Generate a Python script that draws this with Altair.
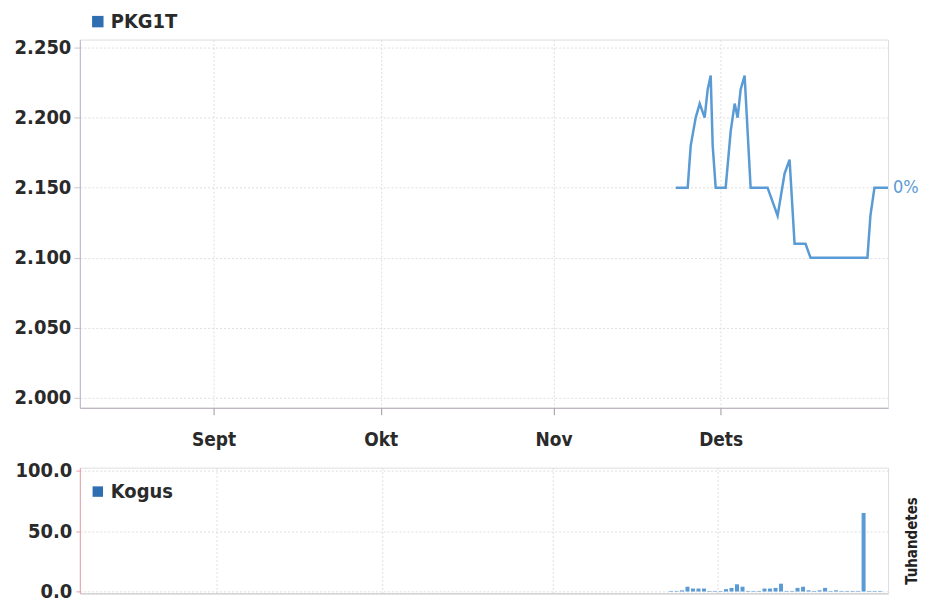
import altair as alt
import pandas as pd

# ---- data ----
price_times = [
    "2012-11-22T22:30", "2012-11-25T02:00", "2012-11-25T15:00", "2012-11-26T12:30",
    "2012-11-27T05:45", "2012-11-28T03:00", "2012-11-28T16:00", "2012-11-29T05:00",
    "2012-11-29T13:40", "2012-11-30T02:30", "2012-12-01T21:30", "2012-12-02T19:00",
    "2012-12-03T12:15", "2012-12-04T01:00", "2012-12-04T14:00", "2012-12-05T07:10",
    "2012-12-06T09:00", "2012-12-09T10:00", "2012-12-11T05:15", "2012-12-12T11:15",
    "2012-12-13T08:50", "2012-12-14T06:15", "2012-12-16T05:30", "2012-12-17T03:00",
    "2012-12-27T08:10", "2012-12-27T21:00", "2012-12-28T14:20", "2012-12-31T01:00",
]
price_values = [
    2.15, 2.15, 2.18, 2.20, 2.21, 2.20, 2.22, 2.23,
    2.18, 2.15, 2.15, 2.19, 2.21, 2.20, 2.22, 2.23,
    2.15, 2.15, 2.13, 2.16, 2.17, 2.11, 2.11, 2.10,
    2.10, 2.13, 2.15, 2.15,
]
change_label = "0%"

volume_days = [
    "2012-11-22", "2012-11-23", "2012-11-24", "2012-11-25", "2012-11-26", "2012-11-27",
    "2012-11-28", "2012-11-29", "2012-11-30", "2012-12-01", "2012-12-02", "2012-12-03",
    "2012-12-04", "2012-12-05", "2012-12-06", "2012-12-07", "2012-12-08", "2012-12-09",
    "2012-12-10", "2012-12-11", "2012-12-12", "2012-12-13", "2012-12-14", "2012-12-15",
    "2012-12-16", "2012-12-17", "2012-12-18", "2012-12-19", "2012-12-20", "2012-12-21",
    "2012-12-22", "2012-12-23", "2012-12-24", "2012-12-25", "2012-12-26", "2012-12-27",
    "2012-12-28", "2012-12-29", "2012-12-30",
]
volume_values = [
    0.5, 0.5, 1, 4, 2.5, 2.5, 2.5, 0.5, 0.5, 0.5, 2, 3, 6, 4, 0.5, 0.5, 0.5, 2.5,
    2.5, 3, 6.5, 0.5, 0.5, 3, 4, 1, 0.5, 1, 3, 0.5, 1, 0.5, 0.5, 0.5, 0.5, 65,
    0.5, 0.5, 0.5,
]

month_names = ["Jaan", "Veebr", "Märts", "Apr", "Mai", "Juuni", "Juuli", "Aug",
               "Sept", "Okt", "Nov", "Dets"]

price_df = pd.DataFrame({"t": price_times, "price": price_values, "series": "PKG1T"})
price_df["label"] = ""
price_df.loc[price_df.index[-1], "label"] = change_label
vol_df = pd.DataFrame({"t": [d + "T12:00" for d in volume_days], "vol": volume_values,
                       "series": "Kogus"})

FONT = "DejaVu Sans Condensed"
LINE = "#5b9bd5"
LEG = "#2f6eb0"
GRID = "#dedede"
TXT = "#2a2a2a"

x_domain = [alt.DateTime(year=2012, month=8, date=8, hours=0),
            alt.DateTime(year=2012, month=12, date=31, hours=1)]
label_expr = "[" + ",".join("'%s'" % m for m in month_names) + "][month(datum.value)]"

x_top = alt.X("t:T", scale=alt.Scale(domain=x_domain),
              axis=alt.Axis(title=None, tickCount={"interval": "month", "step": 1},
                            labelExpr=label_expr, grid=True, gridColor=GRID, gridDash=[2, 2],
                            domainColor="#b4a8bc", tickColor="#9a9a9a", tickSize=7,
                            labelFont=FONT, labelFontSize=19, labelFontWeight="bold",
                            labelColor=TXT, labelPadding=16))

top_line = alt.Chart(price_df).mark_line(strokeWidth=2.5, clip=True, stroke=LINE).encode(
    x=x_top,
    y=alt.Y("price:Q", scale=alt.Scale(domain=[1.9929, 2.2557], nice=False, zero=False),
            axis=alt.Axis(title=None, values=[2.0, 2.05, 2.1, 2.15, 2.2, 2.25], format=".3f",
                          grid=True, gridColor=GRID, gridDash=[2, 2],
                          domainColor="#c4b4cc", tickColor="#c8c8c8", tickSize=6,
                          labelFont=FONT, labelFontSize=20, labelFontWeight="bold",
                          labelColor=TXT, labelPadding=3)),
    color=alt.Color("series:N", scale=alt.Scale(domain=["PKG1T"], range=[LEG]),
                    legend=alt.Legend(title=None, orient="none", legendX=8, legendY=-28,
                                      symbolType="square", symbolSize=30, symbolStrokeWidth=6,
                                      labelFont=FONT, labelFontSize=20, labelFontWeight="bold",
                                      labelColor=TXT, labelOffset=3)),
)
top_text = alt.Chart(price_df).transform_filter("datum.label != ''").mark_text(
    align="left", baseline="middle", dx=5, font=FONT, fontSize=18, color=LINE, clip=False
).encode(x="t:T", y="price:Q", text="label:N")

top = alt.layer(top_line, top_text).properties(width=810, height=369)

x_bot = alt.X("t:T", scale=alt.Scale(domain=x_domain),
              axis=alt.Axis(title=None, tickCount={"interval": "month", "step": 1},
                            labels=False, ticks=False, grid=True, gridColor=GRID,
                            gridDash=[2, 2], domainColor="#c8c8c8"))

bars = alt.Chart(vol_df).mark_bar(size=4, fill=LINE).encode(
    x=x_bot,
    y=alt.Y("vol:Q", scale=alt.Scale(domain=[-1.5, 102.5], nice=False, zero=False),
            axis=alt.Axis(title=None, values=[0, 50, 100], format=".1f", grid=True,
                          gridColor=GRID, gridDash=[2, 2], domainColor="#eaa0aa",
                          tickColor="#eaa0aa", tickSize=4,
                          labelFont=FONT, labelFontSize=20, labelFontWeight="bold",
                          labelColor=TXT, labelPadding=4)),
    color=alt.Color("series:N", scale=alt.Scale(domain=["Kogus"], range=[LEG]),
                    legend=alt.Legend(title=None, orient="none", legendX=8, legendY=14,
                                      symbolType="square", symbolSize=110,
                                      labelFont=FONT, labelFontSize=20,
                                      labelFontWeight="bold", labelColor=TXT, labelOffset=3)),
)
right_title = alt.Chart(vol_df).mark_bar(opacity=0).encode(
    x=alt.X("t:T", scale=alt.Scale(domain=x_domain)),
    y=alt.Y("vol:Q", scale=alt.Scale(domain=[-1.5, 102.5], nice=False),
            axis=alt.Axis(orient="right", title="Tuhandetes", labels=False, ticks=False,
                          domain=False, grid=False, titleAngle=270, titleFont=FONT,
                          titleFontSize=15, titleFontWeight="bold", titleColor="#222222",
                          titlePadding=31, titleY=73)),
)
bottom = alt.layer(bars, right_title).resolve_scale(y="independent", color="independent").properties(
    width=810, height=126)

chart = alt.vconcat(top, bottom, spacing=9).resolve_scale(
    x="independent", color="independent"
).resolve_legend(color="independent").properties(
    padding={"left": 5, "top": 2, "right": 0, "bottom": 0}
).configure_view(stroke=None).configure(background="white")

chart.save("out.html", embed_options={"renderer": "svg", "actions": False})
